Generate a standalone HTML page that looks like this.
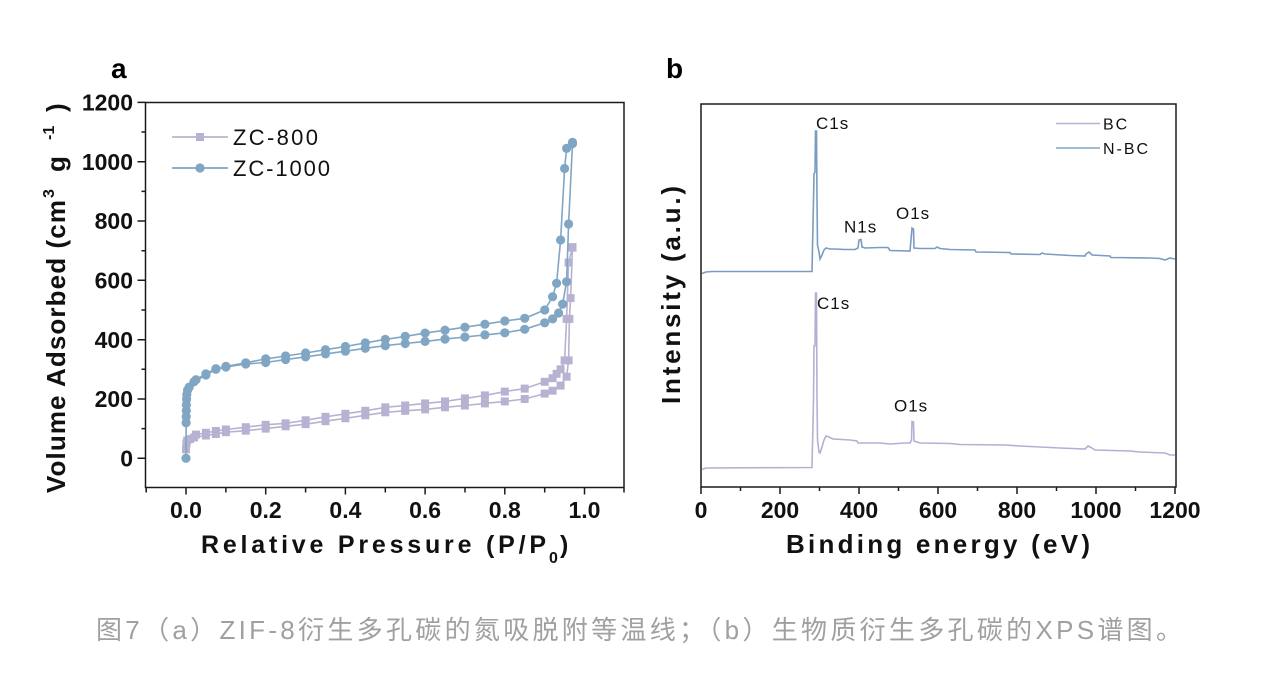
<!DOCTYPE html>
<html><head><meta charset="utf-8"><style>
html,body{margin:0;padding:0;background:#fff;}
svg{display:block;}
text{font-family:"Liberation Sans","Noto Sans CJK SC",sans-serif;}
</style></head><body>
<svg width="1276" height="688" viewBox="0 0 1276 688" xmlns="http://www.w3.org/2000/svg">
<defs>
<marker id="sq" markerWidth="10" markerHeight="10" refX="5" refY="5" markerUnits="userSpaceOnUse"><rect x="1" y="1" width="8" height="8" fill="#b8b2d2"/></marker>
<marker id="ci" markerWidth="12" markerHeight="12" refX="6" refY="6" markerUnits="userSpaceOnUse"><circle cx="6" cy="6" r="4.6" fill="#80a6c4"/></marker>
</defs>
<rect width="1276" height="688" fill="#fff"/>

<!-- Panel a -->
<text x="111" y="78" font-size="28" font-weight="bold" fill="#000">a</text>
<g stroke="#1a1a1a" stroke-width="1.5" fill="none">
<rect x="145.5" y="102.5" width="478.5" height="385"/>
<path d="M145.5 458.3h-8M145.5 399h-8M145.5 339.7h-8M145.5 280.3h-8M145.5 221h-8M145.5 161.7h-8M145.5 102.4h-8M145.5 428.6h-4M145.5 369.3h-4M145.5 310h-4M145.5 250.7h-4M145.5 191.4h-4M145.5 132h-4"/>
<path d="M146.2 487.5v5M186 487.5v7M225.9 487.5v5M265.7 487.5v7M305.6 487.5v5M345.4 487.5v7M385.3 487.5v5M425.1 487.5v7M465 487.5v5M504.8 487.5v7M544.7 487.5v5M584.5 487.5v7M624 487.5v5"/>
</g>
<g font-size="23" font-weight="bold" fill="#111" text-anchor="end">
<text x="133" y="466.5">0</text>
<text x="133" y="407">200</text>
<text x="133" y="348">400</text>
<text x="133" y="288.5">600</text>
<text x="133" y="229">800</text>
<text x="133" y="170">1000</text>
<text x="133" y="110.5">1200</text>
</g>
<g font-size="23" font-weight="bold" fill="#111" text-anchor="middle">
<text x="186" y="518">0.0</text>
<text x="265.7" y="518">0.2</text>
<text x="345.4" y="518">0.4</text>
<text x="425.1" y="518">0.6</text>
<text x="504.8" y="518">0.8</text>
<text x="584.5" y="518">1.0</text>
</g>
<text x="201" y="553" font-size="25" font-weight="bold" fill="#111" textLength="345" lengthAdjust="spacing">Relative Pressure (P/P</text>
<text x="549" y="563" font-size="16" font-weight="bold" fill="#111">0</text>
<text x="560" y="553" font-size="25" font-weight="bold" fill="#111">)</text>

<g transform="translate(65,0) rotate(-90)" font-weight="bold" fill="#111">
<text x="-493" y="0" font-size="26" textLength="293" lengthAdjust="spacing">Volume Adsorbed (cm</text>
<text x="-198" y="-11" font-size="16">3</text>
<text x="-172" y="0" font-size="26">g</text>
<text x="-140" y="-11" font-size="16">-1</text>
<text x="-112" y="0" font-size="26">)</text>
</g>

<!-- legend a -->
<line x1="172" y1="137" x2="228" y2="137" stroke="#b8b2d2" stroke-width="1.8"/>
<rect x="196" y="133" width="8" height="8" fill="#b8b2d2"/>
<line x1="172" y1="168" x2="228" y2="168" stroke="#80a6c4" stroke-width="1.8"/>
<circle cx="200" cy="168" r="4.6" fill="#80a6c4"/>
<text x="233" y="145" font-size="22" fill="#111" textLength="85" lengthAdjust="spacing">ZC-800</text>
<text x="233" y="176" font-size="22" fill="#111" textLength="97" lengthAdjust="spacing">ZC-1000</text>

<!-- ZC-800 -->
<g fill="none" stroke="#b8b2d2" stroke-width="1.6" marker-start="url(#sq)" marker-mid="url(#sq)" marker-end="url(#sq)">
<polyline points="186,449.4 186.4,443.5 187.2,440.5 190,439 194,437.5 205.9,435.5 215.9,434 225.9,432.2 245.8,430.7 265.7,428.6 285.6,426.3 305.6,424.2 325.5,421.2 345.4,418.3 365.3,415.3 385.3,412.3 405.2,410.8 425.1,409.4 445,407.3 464.9,405.5 484.9,403.4 504.8,401.4 524.7,399 544.7,393.6 552.6,390.7 560.6,385.6 566.6,376.7 568.6,360.4 569.4,318.9 570.6,298.1 572.5,247.7"/>
<polyline points="572.5,247.1 568.6,262.5 566.6,318.9 564.6,360.4 560.6,369.3 556.6,373.8 552.6,378.2 544.7,381.8 524.7,388.6 504.8,391.6 484.9,395.4 464.9,398.4 445,401.4 425.1,403.4 405.2,405.5 385.3,407.3 365.3,410.8 345.4,413.8 325.5,416.8 305.6,420.3 285.6,423.3 265.7,424.8 245.8,427.2 225.9,429.5 215.9,431 205.9,432.8 196,434.6"/>
</g>
<!-- ZC-1000 -->
<g fill="none" stroke="#80a6c4" stroke-width="1.6" marker-start="url(#ci)" marker-mid="url(#ci)" marker-end="url(#ci)">
<polyline points="186,458.3 186.1,422.7 186.2,416.8 186.3,410.8 186.4,404.9 186.6,399 186.8,394.5 187.6,390.1 189.2,387.1 194,381.8 205.9,375 215.9,369.3 225.9,367 245.8,364 265.7,362.5 285.6,359.5 305.6,356.9 325.5,353.9 345.4,351.2 365.3,348.3 385.3,345.6 405.2,343.5 425.1,341.4 445,339.1 464.9,337 484.9,334.9 504.8,332.8 524.7,329.3 544.7,322.8 552.6,318.9 558.6,313 562.6,304.1 566.6,281.8 568.6,224 572.5,143.6"/>
<polyline points="572.5,142.4 566.6,148.4 564.6,168.5 560.6,240 556.6,283.3 552.6,296.7 544.7,310 524.7,318.3 504.8,321 484.9,324.2 464.9,327.2 445,330.2 425.1,333.1 405.2,336.4 385.3,339.4 365.3,342.9 345.4,346.5 325.5,349.7 305.6,353 285.6,356 265.7,358.9 245.8,362.8 225.9,366.4 215.9,368.7 205.9,373.8 196,379.7"/>
</g>

<!-- Panel b -->
<text x="666" y="78" font-size="28" font-weight="bold" fill="#000">b</text>
<g stroke="#1a1a1a" stroke-width="1.5" fill="none">
<rect x="701" y="104" width="475" height="383"/>
<path d="M701 487v7M740.5 487v4M780 487v7M819.5 487v4M859 487v7M898.5 487v4M938 487v7M977.5 487v4M1017 487v7M1056.5 487v4M1096 487v7M1135.5 487v4M1175 487v7"/>
</g>
<g font-size="23" font-weight="bold" fill="#111" text-anchor="middle">
<text x="701" y="518">0</text>
<text x="780" y="518">200</text>
<text x="859" y="518">400</text>
<text x="938" y="518">600</text>
<text x="1017" y="518">800</text>
<text x="1096" y="518">1000</text>
<text x="1175" y="518">1200</text>
</g>
<text x="786" y="553" font-size="26" font-weight="bold" fill="#111" textLength="304" lengthAdjust="spacing">Binding energy (eV)</text>
<g transform="translate(680,0) rotate(-90)">
<text x="-404" y="0" font-size="26" font-weight="bold" fill="#111" textLength="218" lengthAdjust="spacing">Intensity (a.u.)</text>
</g>

<!-- legend b -->
<line x1="1056" y1="123.5" x2="1100" y2="123.5" stroke="#b8b2d2" stroke-width="1.5"/>
<line x1="1056" y1="148" x2="1100" y2="148" stroke="#80a6c4" stroke-width="1.5"/>
<text x="1103" y="129.5" font-size="16" fill="#111" letter-spacing="2">BC</text>
<text x="1103" y="154" font-size="16" fill="#111" letter-spacing="2">N-BC</text>

<!-- N-BC spectrum -->
<polyline fill="none" stroke="#7a9cc0" stroke-width="1.6" points="702,273.5 706,272 712,271.5 812,271.5 813.5,200 814,174 815,172 815.5,131 816.5,131 817,200 817.5,245 819,252 820,259 822,255 824,250 826,248 830,249 835,249 845,249.5 855,249.5 858,248 859,240 861,239.5 862,247 865,248 880,247.5 888,247.5 890,250.5 910,251 912,228 913.5,229 914,248 920,248.5 935,248.5 937,247 940,248.5 950,249.5 975,250 976,252 1010,252.5 1011,254 1040,254.5 1042,253 1045,254 1070,255.5 1085,256 1086,254 1089,252 1092,255 1110,256 1111,257.5 1150,258 1160,258.5 1165,260 1170,258 1175,259"/>
<!-- BC spectrum -->
<polyline fill="none" stroke="#b3b0d3" stroke-width="1.6" points="702,469.5 706,468 812,467.5 813.5,400 814,346 815,346 815.5,293 816.5,293 817,400 817.5,440 819,452 820,453 822,447 824,440 826,436 829,437 833,439 850,440 857,441 858,443 880,443 890,444 905,443 910,443 911.5,440 912,421.5 913.5,422 914,441 920,443 950,443.5 960,444.5 1005,445 1020,446 1040,447 1060,448 1085,449 1088,446 1091,447.5 1095,450 1130,451 1140,452 1165,453 1170,455 1175,455"/>

<g font-size="17" fill="#111" letter-spacing="1">
<text x="816" y="129">C1s</text>
<text x="844" y="232.5">N1s</text>
<text x="896" y="219">O1s</text>
<text x="817" y="309">C1s</text>
<text x="894" y="411.5">O1s</text>
</g>

<!-- caption -->
<text x="96" y="639" font-size="26" fill="#a0a0a0" textLength="1086" lengthAdjust="spacing">图7（a）ZIF-8衍生多孔碳的氮吸脱附等温线；（b）生物质衍生多孔碳的XPS谱图。</text>
</svg>
</body></html>
